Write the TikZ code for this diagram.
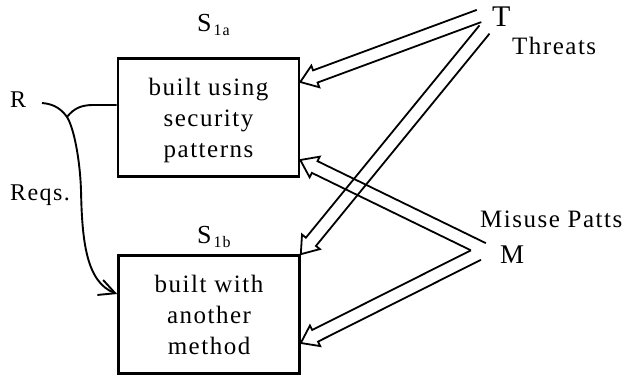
\documentclass[tikz,border=0pt]{standalone}
\usepackage{fontspec}
\setmainfont{Liberation Serif}[LetterSpace=6]
\usetikzlibrary{calc,arrows.meta}

% corner points of a hollow block arrow: #1 prefix, #2 tail centre, #3 tip
\newcommand\hollowpts[3]{%
  \coordinate (#1h) at ($(#3)!16pt!(#2)$);
  \coordinate (#1a) at ($(#2)!6.5pt!90:(#3)$);
  \coordinate (#1b) at ($(#1h)!6.5pt!90:(#3)$);
  \coordinate (#1c) at ($(#1h)!11.5pt!90:(#3)$);
  \coordinate (#1d) at ($(#1h)!11.5pt!-90:(#3)$);
  \coordinate (#1e) at ($(#1h)!6.5pt!-90:(#3)$);
  \coordinate (#1f) at ($(#2)!6.5pt!-90:(#3)$);
  \coordinate (#1t) at (#3);
}

\begin{document}
\begin{tikzpicture}[x=1pt,y=-1pt,
  box/.style={draw, line width=2.6pt, minimum width=181pt, minimum height=118pt, inner sep=0pt},
  boxtext/.style={align=center, inner sep=0pt, font=\fontsize{25}{31}\selectfont},
  lbl/.style={inner sep=0pt, anchor=base west},
  conn/.style={line width=1.9pt},
  hollow/.style={line width=1.8pt, line join=miter}]
\useasboundingbox (0,0) rectangle (631,377);

% the two systems
\node[box] (S1a) at (208.5,117.5) {};
\node[boxtext] (S1atext) at ([yshift=-2.7pt]S1a.center) {built using\\security\\patterns};
\node[box] (S1b) at (209,314.5) {};
\node[boxtext] (S1btext) at (S1b.center) {built with\\another\\method};

% labels
\node[lbl, font=\fontsize{26}{26}\selectfont] (S1alabel) at (197,32)
  {S\hspace{2pt}\raisebox{-4pt}{\fontsize{16}{16}\selectfont 1a}};
\node[lbl, font=\fontsize{26}{26}\selectfont] (S1blabel) at (197,243)
  {S\hspace{2pt}\raisebox{-4pt}{\fontsize{16}{16}\selectfont 1b}};
\node[lbl, font=\fontsize{30}{30}\selectfont] (T) at (492,27) {T};
\node[lbl, font=\fontsize{25}{25}\selectfont] (Threats) at (512,55) {Threats};
\node[lbl, font=\fontsize{25}{25}\selectfont] (Misuse) at (480,227) {Misuse Patts};
\node[lbl, font=\fontsize{27}{27}\selectfont] (M) at (500,263) {M};
\node[lbl, font=\fontsize{24}{24}\selectfont] (R) at (10,108) {R};
\node[lbl, font=\fontsize{24}{24}\selectfont] (Reqs) at (10,200) {Reqs.};

% requirements feed both systems
\coordinate (r0) at (42,103);
\coordinate (j) at (67,117);
\coordinate (inA) at ([yshift=12.5pt]S1a.west);
\coordinate (inB) at ([yshift=20.5pt]S1b.west);
\draw[conn] (j) .. controls (74,108) and (82,105) .. (93,105) -- (inA);
\draw[conn, -{Straight Barb[length=16pt,width=16pt]}]
  (r0) .. controls (55,104) and (62,110) .. (j)
       .. controls (74,128) and (80,160) .. (81,190)
       .. controls (82,240) and (86,282) .. (inB);

% hollow arrows from threats and misuse patterns
\coordinate (t1s) at (479,16);
\coordinate (t2s) at (484.5,29.5);
\coordinate (m3s) at (483,249);
\coordinate (m4s) at (478,254);
\hollowpts{t1}{t1s}{[yshift=35.5pt]S1a.east}
\hollowpts{t2}{t2s}{S1b.north east}
\hollowpts{m3}{m3s}{[yshift=-42.5pt]S1a.east}
\hollowpts{m4}{m4s}{[yshift=-28.5pt]S1b.east}
\coordinate (V) at (intersection of m3a--m3b and m4f--m4e);

\draw[hollow] (t1a) -- (t1b) -- (t1c) -- (t1t) -- (t1d) -- (t1e) -- (t1f);
\draw[hollow] (t2a) -- (t2b) -- (t2c) -- (t2t) -- (t2d) -- (t2e) -- (t2f);
\draw[hollow] (V) -- (m3b) -- (m3c) -- (m3t) -- (m3d) -- (m3e) -- (m3f);
\draw[hollow] (m4a) -- (m4b) -- (m4c) -- (m4t) -- (m4d) -- (m4e) -- (V);
\end{tikzpicture}
\end{document}
